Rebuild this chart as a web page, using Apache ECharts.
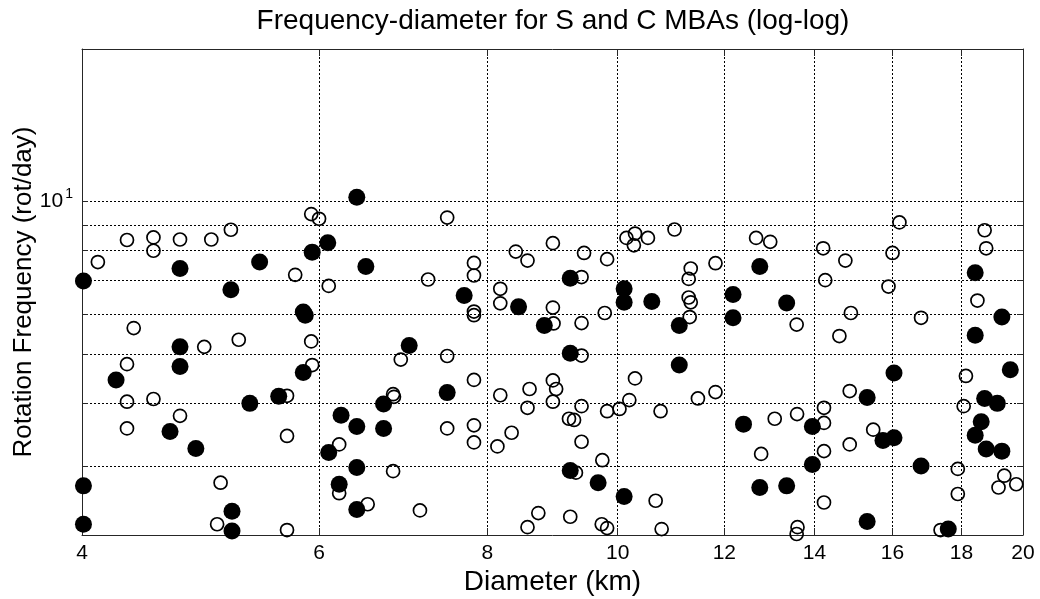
<!DOCTYPE html>
<html>
<head>
<meta charset="utf-8">
<script src="https://cdn.jsdelivr.net/npm/echarts@6/dist/echarts.min.js"></script>
<style>
html,body{margin:0;padding:0;background:#fff;}
#c{width:1040px;height:599px;}
</style>
</head>
<body>
<div id="c"></div>
<script>
// Diameter (km) and rotation frequency (rot/day), filled markers
const filledDiam = [6.4, 5.42, 5.93, 6.09, 6.5, 4.73, 4.01, 5.16, 5.84, 5.86, 4.73, 7.0, 4.73, 4.24, 4.65, 4.86, 5.33, 5.6, 5.84, 4.01, 4.01, 5.17, 5.17, 6.23, 6.4, 6.1, 6.4, 6.7, 6.7, 6.21, 6.4, 7.69, 8.44, 9.22, 8.82, 9.22, 10.11, 10.11, 10.6, 11.11, 11.11, 7.47, 9.22, 9.67, 10.11, 12.75, 12.18, 12.18, 13.35, 18.43, 19.29, 18.43, 12.4, 12.75, 13.35, 13.95, 13.95, 15.32, 15.74, 16.04, 16.04, 15.32, 16.8, 18.73, 19.14, 18.62, 18.43, 18.78, 19.29, 19.57, 17.6];
const filledFreq = [10.2, 7.6, 7.95, 8.3, 7.45, 7.38, 6.97, 6.7, 6.06, 5.97, 5.17, 5.2, 4.73, 4.45, 3.52, 3.26, 4.0, 4.13, 4.6, 2.75, 2.31, 2.45, 2.24, 3.79, 3.6, 3.2, 2.99, 3.99, 3.57, 2.77, 2.47, 6.53, 6.2, 7.06, 5.7, 5.02, 6.73, 6.33, 6.35, 5.7, 4.76, 4.2, 2.95, 2.79, 2.62, 7.45, 6.56, 5.9, 6.31, 7.24, 5.92, 5.45, 3.64, 2.73, 2.75, 3.6, 3.03, 4.11, 3.38, 3.42, 4.59, 2.34, 3.01, 4.09, 4.0, 3.68, 3.46, 3.25, 3.22, 4.66, 2.26];

// open markers
const openDiam = [5.92, 6.0, 5.16, 4.32, 4.52, 4.52, 4.73, 4.99, 4.11, 5.76, 6.1, 4.37, 4.93, 5.23, 5.92, 4.32, 4.32, 4.52, 4.73, 4.32, 5.68, 5.93, 5.68, 5.07, 5.04, 5.68, 6.21, 6.81, 6.82, 6.81, 6.21, 6.52, 6.9, 7.47, 7.23, 7.82, 7.82, 7.82, 7.82, 8.4, 8.57, 8.95, 9.44, 9.82, 8.18, 8.18, 8.95, 9.4, 9.78, 8.96, 9.4, 9.4, 7.47, 10.15, 10.3, 10.53, 10.28, 11.02, 11.33, 11.29, 11.29, 11.33, 11.31, 11.82, 7.82, 8.18, 8.6, 8.57, 8.95, 9.0, 8.95, 9.4, 9.2, 9.28, 9.82, 10.03, 10.2, 10.3, 10.76, 11.47, 11.82, 7.47, 7.82, 7.82, 8.34, 8.14, 9.4, 9.74, 9.31, 10.67, 7.13, 8.73, 8.57, 9.22, 9.73, 9.82, 10.78, 12.67, 12.98, 13.58, 14.21, 14.76, 14.26, 14.9, 14.61, 16.19, 16.0, 15.89, 16.8, 18.73, 18.78, 18.5, 12.78, 13.08, 13.59, 14.23, 14.23, 14.23, 14.23, 13.6, 13.58, 14.87, 14.87, 15.48, 18.14, 18.07, 17.89, 19.37, 19.18, 19.77, 17.89, 17.37];
const openFreq = [9.45, 9.25, 8.8, 8.4, 8.5, 8.0, 8.42, 8.42, 7.6, 7.17, 6.82, 5.63, 5.17, 5.34, 5.3, 4.78, 4.03, 4.08, 3.78, 3.57, 4.14, 4.76, 3.45, 2.79, 2.31, 2.25, 3.32, 4.17, 4.12, 2.94, 2.66, 2.53, 4.88, 9.3, 7.02, 7.57, 7.15, 6.07, 5.97, 7.97, 7.65, 8.28, 7.92, 7.7, 6.73, 6.3, 6.18, 7.1, 6.03, 5.75, 5.76, 4.97, 4.96, 8.48, 8.65, 8.48, 8.2, 8.81, 7.38, 7.04, 6.47, 6.33, 5.92, 7.56, 4.45, 4.15, 4.27, 3.92, 4.44, 4.27, 4.03, 3.95, 3.73, 3.71, 3.86, 3.9, 4.06, 4.48, 3.86, 4.09, 4.21, 3.57, 3.62, 3.35, 3.5, 3.29, 3.36, 3.09, 2.92, 2.57, 2.46, 2.43, 2.28, 2.39, 2.31, 2.27, 2.26, 8.48, 8.33, 5.72, 8.09, 7.65, 7.0, 6.03, 5.43, 9.1, 7.92, 6.8, 5.9, 8.78, 8.09, 6.38, 3.18, 3.73, 3.81, 3.92, 3.66, 3.22, 2.55, 2.28, 2.21, 4.23, 3.32, 3.55, 4.53, 3.95, 2.97, 2.88, 2.73, 2.77, 2.65, 2.25];

// axes
const xTicks = [4, 6, 8, 10, 12, 14, 16, 18, 20];
const yTicks = [3, 4, 5, 6, 7, 8, 9, 10, 20];
const yLabels = [10];
const xRange = [4, 20];
const yRange = [2.2, 20];

const L = v => Math.log10(v);
const FONT = 'Liberation Sans, Arial, sans-serif';
const chart = echarts.init(document.getElementById('c'), null, {renderer: 'canvas'});

const gridStyle = {show: true, lineStyle: {color: '#000', width: 1, type: [2, 2]}};
const lineStyle = {show: true, lineStyle: {color: '#262626', width: 1}};

function xAxis(pos, main) {
  return {
    type: 'value', position: pos, min: L(xRange[0]), max: L(xRange[1]),
    axisLine: Object.assign({onZero: false}, lineStyle),
    axisTick: {show: true, inside: true, length: 7, customValues: xTicks.map(L), lineStyle: {color: '#262626'}},
    axisLabel: main ? {show: true, customValues: xTicks.map(L), formatter: v => String(Math.round(Math.pow(10, v))),
      color: '#000', fontSize: 21, fontFamily: FONT, margin: 8} : {show: false},
    splitLine: main ? gridStyle : {show: false},
    name: main ? 'Diameter (km)' : '', nameLocation: 'middle', nameGap: 33, nameMoveOverlap: false,
    nameTextStyle: {color: '#000', fontSize: 28, fontFamily: FONT}
  };
}
function yAxis(pos, main) {
  return {
    type: 'value', position: pos, min: L(yRange[0]), max: L(yRange[1]),
    axisLine: Object.assign({onZero: false}, lineStyle),
    axisTick: {show: true, inside: true, length: 6, customValues: yTicks.map(L), lineStyle: {color: '#262626'}},
    axisLabel: main ? {show: true, customValues: yLabels.map(L),
      formatter: v => '{a|10}{b|' + Math.round(v) + '}',
      rich: {a: {fontSize: 21, fontFamily: FONT, color: '#000'},
             b: {fontSize: 14, fontFamily: FONT, color: '#000', padding: [0, 0, 14, 2]}},
      margin: 9} : {show: false},
    splitLine: main ? gridStyle : {show: false},
    name: main ? 'Rotation Frequency (rot/day)' : '', nameLocation: 'middle', nameGap: 45, nameMoveOverlap: false,
    nameTextStyle: {color: '#000', fontSize: 26, fontFamily: FONT}
  };
}

chart.setOption({
  animation: false,
  backgroundColor: '#fff',
  title: {
    text: 'Frequency-diameter for S and C MBAs (log-log)',
    left: 548, top: 2, textAlign: 'center',
    textStyle: {color: '#000', fontSize: 28, fontWeight: 'normal', fontFamily: FONT}
  },
  grid: {left: 82, right: 17, top: 49, bottom: 64, containLabel: false, outerBoundsMode: 'none'},
  xAxis: [xAxis('bottom', true), xAxis('top', false)],
  yAxis: [yAxis('left', true), yAxis('right', false)],
  series: [
    {
      type: 'scatter', xAxisIndex: 0, yAxisIndex: 0, symbol: 'circle', symbolSize: 13,
      itemStyle: {color: 'rgba(0,0,0,0)', borderColor: '#000', borderWidth: 1.7, opacity: 1},
      data: openDiam.map((d, i) => [L(d), L(openFreq[i])]), z: 3
    },
    {
      type: 'scatter', xAxisIndex: 0, yAxisIndex: 0, symbol: 'circle', symbolSize: 17,
      itemStyle: {color: '#000', borderWidth: 0, opacity: 1},
      data: filledDiam.map((d, i) => [L(d), L(filledFreq[i])]), z: 4
    }
  ]
});
</script>
</body>
</html>
